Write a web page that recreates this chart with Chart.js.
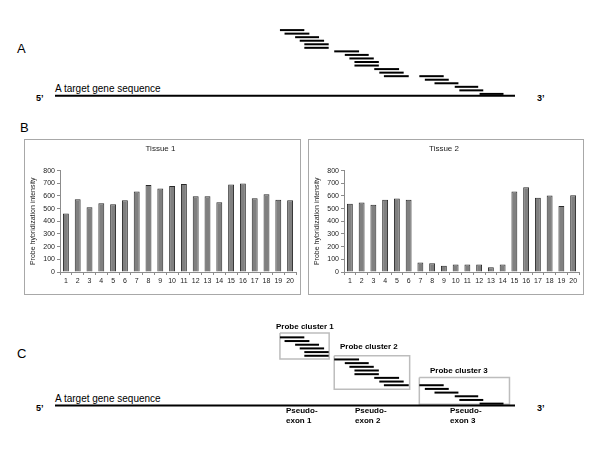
<!DOCTYPE html>
<html><head><meta charset="utf-8">
<script src="https://cdn.jsdelivr.net/npm/chart.js@4/dist/chart.umd.min.js"></script>
<style>
html,body{margin:0;padding:0;background:#fff;}
#fig{position:relative;width:600px;height:450px;overflow:hidden;font-family:Arial,"Liberation Sans",sans-serif;color:#000;}
.t{position:absolute;white-space:nowrap;}
.lbl{font-size:13px;line-height:13px;}
.seq{font-size:10px;line-height:10px;}
.end{font-size:9px;line-height:9px;font-weight:bold;}
.cl{font-size:8px;line-height:8px;font-weight:bold;}
.px{font-size:8px;line-height:10.3px;font-weight:bold;}
.box{position:absolute;border:1px solid #a8a8a8;}
canvas{position:absolute;display:block;}
</style></head><body>
<div id="fig">
  <div class="t lbl" style="left:17px;top:42px;">A</div>
  <div class="t seq" style="left:55px;top:84px;">A target gene sequence</div>
  <div class="t end" style="left:36px;top:94px;">5’</div>
  <div class="t end" style="left:537px;top:94px;">3’</div>
  <canvas id="panelA" width="460" height="78" style="left:55px;top:23px;"></canvas>

  <div class="t lbl" style="left:20px;top:121px;">B</div>
  <div class="box" style="left:24px;top:139px;width:275px;height:154px;"></div>
  <div class="box" style="left:308px;top:139px;width:274px;height:154px;"></div>
  <canvas id="tissue1" width="275" height="154" style="left:25px;top:140px;"></canvas>
  <canvas id="tissue2" width="274" height="154" style="left:309px;top:140px;"></canvas>

  <div class="t lbl" style="left:17px;top:347px;">C</div>
  <div class="t seq" style="left:55px;top:394px;">A target gene sequence</div>
  <div class="t end" style="left:36px;top:404px;">5’</div>
  <div class="t end" style="left:537px;top:404px;">3’</div>
  <div id="clusterLabels"></div>
  <div id="exonLabels"></div>
  <canvas id="panelC" width="460" height="81" style="left:55px;top:330px;"></canvas>
</div>
<script>
// ---- data ----
const probeIds = ['1','2','3','4','5','6','7','8','9','10','11','12','13','14','15','16','17','18','19','20'];
const tissue1 = [462, 574, 510, 542, 534, 566, 635, 686, 659, 678, 694, 598, 598, 550, 691, 699, 582, 614, 571, 566];
const tissue2 = [538, 548, 530, 570, 580, 570, 74, 70, 50, 60, 60, 60, 38, 60, 636, 668, 586, 604, 520, 606];
const chartTitles = ['Tissue 1', 'Tissue 2'];
const yAxisTitle = 'Probe hybridization intensity';

// probe positions along the gene (0 = 5' end, 1000 = 3' end) and their stacking track
const probeStart = [489, 499, 522, 532, 542, 542, 607, 630, 640, 651, 651, 694, 705, 715, 792, 804, 825, 869, 879, 923];
const probeEnd   = [542, 553, 574, 585, 595, 595, 661, 682, 693, 704, 704, 748, 758, 769, 845, 856, 877, 920, 931, 975];
const probeTrack = [0, 1, 2, 3, 4, 5, 6, 7, 8, 9, 10, 11, 12, 13, 13, 14, 15, 16, 17, 18];
const geneSpan = [0, 1000];
const geneTrack = 18.5;

const clusterNames = ['Probe cluster 1', 'Probe cluster 2', 'Probe cluster 3'];
const clusterStart = [489, 607, 792];
const clusterEnd   = [596, 771, 988];
const clusterTop   = [-1.2, 5.0, 10.9];
const clusterBottom= [5.9, 14.1, 18.2];
const exonNames = ['Pseudo-\nexon 1', 'Pseudo-\nexon 2', 'Pseudo-\nexon 3'];

// ---- text placement for panel C ----
const FF = 'Arial, "Liberation Sans", sans-serif';
const clusterLabelPos = [[276, 323], [340, 343], [430, 367]];
const exonLabelPos = [[286, 406], [355, 406], [450, 406]];
const fig = document.getElementById('fig');
clusterNames.forEach((n, i) => {
  const d = document.createElement('div');
  d.className = 't cl'; d.textContent = n;
  d.style.left = clusterLabelPos[i][0] + 'px'; d.style.top = clusterLabelPos[i][1] + 'px';
  fig.appendChild(d);
});
exonNames.forEach((n, i) => {
  const d = document.createElement('div');
  d.className = 't px'; d.style.whiteSpace = 'pre'; d.textContent = n;
  d.style.left = exonLabelPos[i][0] + 'px'; d.style.top = exonLabelPos[i][1] + 'px';
  fig.appendChild(d);
});

// ---- bar charts ----
function barChart(id, title, values) {
  new Chart(document.getElementById(id), {
    type: 'bar',
    data: { labels: probeIds, datasets: [{
      data: values, backgroundColor: '#808080', borderColor: '#2a2a2a', borderWidth: 1,
      barPercentage: 0.5, categoryPercentage: 1
    }]},
    options: {
      responsive: false, animation: false, events: [],
      layout: { padding: { left: 0, right: 4, top: 0, bottom: 0 } },
      plugins: {
        legend: { display: false }, tooltip: { enabled: false },
        title: { display: true, text: title, color: '#222',
                 font: { size: 8, family: FF, weight: 'normal' }, padding: { top: 4, bottom: 17 } }
      },
      scales: {
        x: {
          grid: { display: true, drawOnChartArea: false, drawTicks: true, tickLength: 3, color: '#8c8c8c', offset: true },
          border: { color: '#8c8c8c' },
          ticks: { font: { size: 7, family: FF }, color: '#222', padding: 2, maxRotation: 0, autoSkip: false },
          afterFit(s) { s.height = 22; }
        },
        y: {
          min: 0, max: 800,
          ticks: { stepSize: 100, font: { size: 7, family: FF }, color: '#222', padding: 2 },
          grid: { drawOnChartArea: false, tickLength: 3, color: '#8c8c8c' },
          border: { color: '#8c8c8c' },
          title: { display: true, text: yAxisTitle, font: { size: 7, family: FF }, color: '#222', padding: { top: 4, bottom: 0 } },
          afterFit(s) { s.width = 35; }
        }
      }
    }
  });
}
barChart('tissue1', chartTitles[0], tissue1);
barChart('tissue2', chartTitles[1], tissue2);

// ---- gene / probe track charts ----
function trackChart(id, withClusters) {
  const ds = [];
  ds.push({ data: [{ x: geneSpan[0], y: geneTrack }, { x: geneSpan[1], y: geneTrack }], borderColor: '#000', borderWidth: 2 });
  for (let i = 0; i < probeStart.length; i++) {
    ds.push({ data: [{ x: probeStart[i], y: probeTrack[i] }, { x: probeEnd[i], y: probeTrack[i] }], borderColor: '#000', borderWidth: 2 });
  }
  if (withClusters) {
    for (let c = 0; c < clusterStart.length; c++) {
      ds.push({ data: [
        { x: clusterStart[c], y: clusterTop[c] }, { x: clusterEnd[c], y: clusterTop[c] },
        { x: clusterEnd[c], y: clusterBottom[c] }, { x: clusterStart[c], y: clusterBottom[c] },
        { x: clusterStart[c], y: clusterTop[c] }
      ], borderColor: '#bdbdbd', borderWidth: 1.5 });
    }
  }
  new Chart(document.getElementById(id), {
    type: 'scatter',
    data: { datasets: ds.map(d => Object.assign({ showLine: true, pointRadius: 0, fill: false, clip: false, tension: 0, borderCapStyle: 'butt' }, d)) },
    options: {
      responsive: false, animation: false, events: [],
      layout: { padding: 0 },
      plugins: { legend: { display: false }, tooltip: { enabled: false } },
      scales: {
        x: { type: 'linear', min: 0, max: 1000, display: false },
        y: { type: 'linear', min: -2, max: 20, reverse: true, display: false }
      }
    }
  });
}
trackChart('panelA', false);
trackChart('panelC', true);
</script>
</body></html>
